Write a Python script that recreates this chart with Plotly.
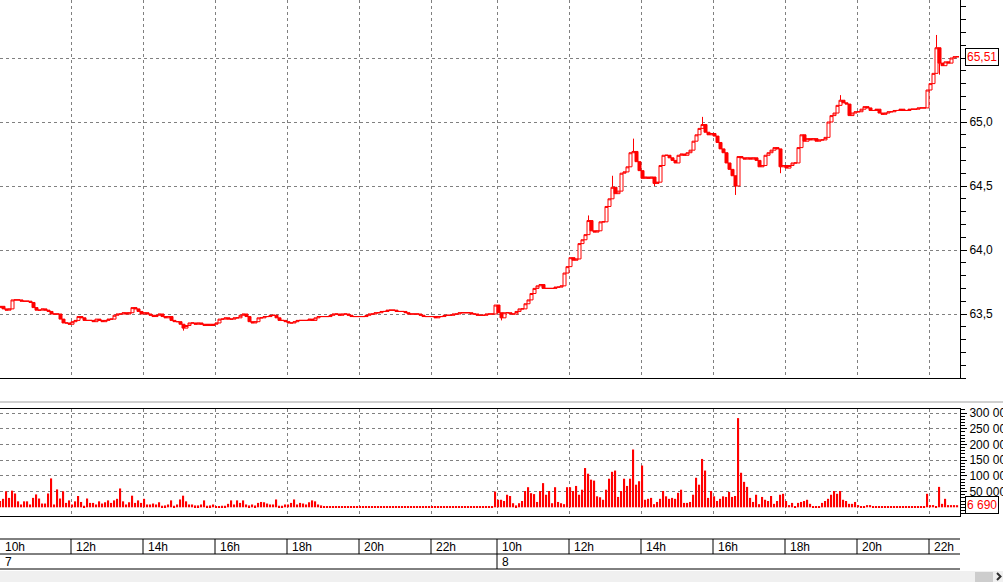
import plotly.graph_objects as go

# ---------------- data ----------------
# 5-minute candles, day 7 (10:00 ->) and day 8 (10:00 ->), bar index on x
close_day1 = [
    63.56, 63.54, 63.53, 63.54, 63.61, 63.61, 63.61, 63.60, 63.60, 63.60,
    63.59, 63.55, 63.53, 63.53, 63.54, 63.53, 63.52, 63.50, 63.50, 63.50,
    63.46, 63.43, 63.43, 63.42, 63.44, 63.45, 63.48, 63.47, 63.45, 63.45,
    63.45, 63.44, 63.46, 63.45, 63.44, 63.45, 63.46, 63.46, 63.49, 63.50,
    63.50, 63.51, 63.50, 63.51, 63.55, 63.54, 63.52, 63.50, 63.51, 63.50,
    63.49, 63.48, 63.49, 63.50, 63.48, 63.47, 63.48, 63.45, 63.44, 63.44,
    63.42, 63.39, 63.41, 63.43, 63.43, 63.42, 63.43, 63.42, 63.41, 63.42,
    63.41, 63.42, 63.43, 63.46, 63.46, 63.47, 63.46, 63.46, 63.47, 63.47,
    63.49, 63.50, 63.48, 63.44, 63.43, 63.44, 63.47, 63.47, 63.48, 63.48,
    63.49, 63.49, 63.47, 63.45, 63.45, 63.44, 63.43, 63.43, 63.44, 63.45,
    63.45, 63.45, 63.45, 63.46, 63.45, 63.47, 63.48, 63.48, 63.48, 63.48,
    63.49, 63.50, 63.50, 63.49, 63.50, 63.50, 63.49, 63.48, 63.48, 63.48,
    63.48, 63.48, 63.49, 63.50, 63.50, 63.51, 63.51, 63.52, 63.52, 63.53,
    63.53, 63.53, 63.52, 63.52, 63.52, 63.51, 63.50, 63.50, 63.50, 63.50,
    63.49, 63.48, 63.48, 63.48, 63.48, 63.47, 63.48, 63.48, 63.49, 63.49,
    63.49, 63.50, 63.50, 63.51, 63.51, 63.51, 63.51, 63.50, 63.50, 63.49,
    63.49, 63.49, 63.50, 63.50, 63.50,
]
close_day2 = [
    63.57, 63.51, 63.47, 63.51, 63.51, 63.50, 63.50, 63.52, 63.54, 63.54,
    63.58, 63.61, 63.66, 63.70, 63.72, 63.73, 63.70, 63.70, 63.70, 63.70,
    63.71, 63.71, 63.72, 63.82, 63.87, 63.94, 63.92, 63.93, 64.05, 64.08,
    64.12, 64.23, 64.15, 64.14, 64.15, 64.22, 64.22, 64.34, 64.40, 64.49,
    64.44, 64.46, 64.60, 64.61, 64.65, 64.76, 64.77, 64.69, 64.62, 64.56,
    64.57, 64.56, 64.57, 64.52, 64.53, 64.66, 64.74, 64.74, 64.72, 64.70,
    64.68, 64.74, 64.75, 64.74, 64.76, 64.78, 64.85, 64.90, 64.95, 64.98,
    64.92, 64.90, 64.91, 64.89, 64.84, 64.79, 64.76, 64.68, 64.63, 64.58,
    64.50, 64.73, 64.72, 64.71, 64.72, 64.71, 64.72, 64.70, 64.65, 64.66,
    64.74, 64.76, 64.78, 64.80, 64.79, 64.65, 64.66, 64.64, 64.66, 64.68,
    64.68, 64.80, 64.90, 64.85, 64.87, 64.86, 64.87, 64.85, 64.86, 64.86,
    64.88, 65.00, 65.05, 65.07, 65.13, 65.17, 65.15, 65.14, 65.05, 65.07,
    65.08, 65.08, 65.10, 65.12, 65.11, 65.09, 65.09, 65.10, 65.07, 65.06,
    65.07, 65.08, 65.08, 65.09, 65.09, 65.10, 65.09, 65.09, 65.10, 65.10,
    65.10, 65.11, 65.11, 65.11, 65.25, 65.30, 65.38, 65.58, 65.46, 65.44,
    65.47, 65.46, 65.50, 65.51, 65.51,
]
first_open = 63.55

# wicks beyond the candle bodies (bar index -> price)
wick_high_idx = [196, 204, 211, 234, 280, 312]
wick_high_val = [64.27, 64.58, 64.87, 65.04, 65.21, 65.68]
wick_low_idx = [61, 167, 218, 245, 260, 313]
wick_low_val = [63.37, 63.45, 64.50, 64.43, 64.60, 65.37]

volume_day1 = [
    20, 27, 51, 30, 53, 44, 19, 9, 19, 19,
    9, 30, 41, 28, 12, 12, 44, 92, 9, 57,
    28, 51, 14, 22, 9, 19, 36, 17, 5, 28,
    14, 14, 9, 19, 12, 16, 22, 14, 22, 27,
    60, 19, 9, 16, 37, 14, 22, 14, 27, 9,
    9, 12, 9, 16, 5, 6, 9, 22, 5, 9,
    25, 37, 19, 9, 9, 6, 6, 9, 22, 5,
    6, 9, 3, 4, 5, 5, 11, 22, 9, 22,
    14, 22, 9, 6, 9, 6, 14, 17, 16, 12,
    9, 9, 25, 5, 5, 9, 9, 14, 25, 9,
    14, 12, 9, 16, 22, 19, 9, 6, 3, 3,
    2, 3, 2, 4, 2, 2, 3, 2, 2, 4,
    2, 2, 3, 2, 2, 2, 1, 2, 2, 3,
    2, 2, 2, 1, 2, 2, 3, 2, 2, 2,
    1, 2, 2, 2, 1, 2, 2, 2, 1, 2,
    2, 2, 1, 2, 2, 2, 2, 1, 2, 2,
    2, 2, 2, 1, 2,
]
volume_day2 = [
    50, 24, 24, 20, 40, 36, 13, 6, 13, 20,
    52, 64, 45, 42, 17, 52, 77, 40, 52, 13,
    64, 17, 13, 10, 64, 64, 52, 68, 40, 56,
    125, 107, 88, 85, 35, 32, 24, 56, 91, 113,
    117, 33, 52, 91, 68, 91, 184, 72, 83, 133,
    24, 27, 30, 10, 17, 27, 52, 35, 27, 30,
    27, 46, 56, 14, 14, 17, 40, 94, 72, 154,
    117, 30, 52, 35, 20, 27, 35, 33, 49, 33,
    36, 284, 110, 81, 65, 30, 17, 40, 10,
    33, 24, 20, 36, 11, 20, 40, 43, 20, 7,
    14, 4, 14, 17, 20, 24, 11, 4, 4, 4,
    14, 20, 27, 40, 52, 43, 52, 24, 20, 11,
    11, 17, 7,
    2, 2, 7, 7, 2, 2, 4, 2, 2, 2, 2, 2, 2, 2, 2, 2, 2, 2, 2, 4, 2, 2,
    43, 7, 7, 4, 65, 11, 27, 7, 7, 7, 6.69,
]  # thousands

hour_labels = ["10h", "12h", "14h", "16h", "18h", "20h", "22h",
               "10h", "12h", "14h", "16h", "18h", "20h", "22h"]
hour_bars = [0, 24, 48, 72, 96, 120, 144, 166, 190, 214, 238, 262, 286, 310]
day_labels = ["7", "8"]
day_bars = [0, 166]

price_ticks = [63.5, 64.0, 64.5, 65.0, 65.5]
price_tick_text = ["63,5", "64,0", "64,5", "65,0", ""]   # 65,5 is hidden by the last-price box
volume_ticks = [50000, 100000, 150000, 200000, 250000, 300000]

# ---------------- build series ----------------
closes = close_day1 + close_day2
n = len(closes)
idx = list(range(n))
opens = [first_open] + closes[:-1]
highs = [max(o, c) for o, c in zip(opens, closes)]
lows = [min(o, c) for o, c in zip(opens, closes)]
for i, v in zip(wick_high_idx, wick_high_val):
    highs[i] = max(highs[i], v)
for i, v in zip(wick_low_idx, wick_low_val):
    lows[i] = min(lows[i], v)
volumes = [v * 1000 for v in volume_day1 + volume_day2]

tick_pos = [b - 0.5 for b in hour_bars]
day_pos = [b - 0.5 for b in day_bars]

RED = "#ff0000"
GRID = "#808080"
FONT = "Liberation Sans"
W, H = 1003, 582
XR = [-0.17, 319.83]
PX_RIGHT = 960 / W


def py(p):
    return 1 - p / H


fig = go.Figure()
fig.add_trace(go.Candlestick(
    x=idx, open=opens, high=highs, low=lows, close=closes,
    increasing=dict(line=dict(color=RED, width=1), fillcolor="#ffffff"),
    decreasing=dict(line=dict(color=RED, width=1), fillcolor=RED),
    whiskerwidth=0, hoverinfo="skip", xaxis="x", yaxis="y",
))
fig.add_trace(go.Bar(
    x=idx, y=volumes, width=0.4,
    marker=dict(color=RED, line=dict(width=0)),
    hoverinfo="skip", xaxis="x2", yaxis="y2",
))

common_x = dict(
    range=XR, tickmode="array", tickvals=tick_pos, showticklabels=False,
    showgrid=True, gridcolor=GRID, griddash="3px,3px", gridwidth=1,
    zeroline=False, ticks="", fixedrange=True, automargin=False,
)

fig.update_layout(
    width=W, height=H, margin=dict(l=0, r=0, t=0, b=0, autoexpand=False),
    paper_bgcolor="white", plot_bgcolor="white", showlegend=False,
    separators=", ", boxgap=0.0, boxgroupgap=0.0,
    font=dict(family=FONT, size=11, color="black"),
    xaxis=dict(domain=[0, PX_RIGHT], anchor="y", rangeslider=dict(visible=False),
               showline=True, linecolor="black", linewidth=1, **common_x),
    yaxis=dict(domain=[py(378), 1], range=[63.0, 63.0 + 378 / 128], side="right",
               anchor="x", tickmode="array", tickvals=price_ticks, ticktext=price_tick_text,
               ticks="outside", ticklen=6, tickcolor="black", automargin=False,
               minor=dict(tickmode="linear", tick0=0, dtick=0.1, ticks="outside",
                          ticklen=5, tickcolor="black", showgrid=False),
               showline=True, linecolor="black", linewidth=1,
               showgrid=True, gridcolor=GRID, griddash="3px,3px", zeroline=False,
               fixedrange=True,
               tickfont=dict(family=FONT, size=12, color="black")),
    xaxis2=dict(domain=[0, PX_RIGHT], anchor="y2", showline=True, mirror=True,
                linecolor="black", linewidth=1, **common_x),
    yaxis2=dict(domain=[py(516), py(409)], range=[-27700, 313000], side="right",
                anchor="x2", tickmode="array", tickvals=volume_ticks, tickformat=",d",
                ticks="outside", ticklen=6, tickcolor="black", automargin=False,
                minor=dict(tickmode="linear", tick0=0, dtick=10000, ticks="outside",
                           ticklen=4, tickcolor="black", showgrid=False),
                showline=True, linecolor="black", linewidth=1,
                showgrid=True, gridcolor=GRID, griddash="3px,3px", zeroline=False,
                fixedrange=True,
                tickfont=dict(family=FONT, size=12, color="black")),
)

shapes = []
# separator line between the panels
shapes.append(dict(type="line", xref="paper", yref="paper", x0=0, x1=1,
                   y0=py(402), y1=py(402), line=dict(color="#a0a0a0", width=1)))
# time scale rows
for yy in (539, 554, 569):
    shapes.append(dict(type="line", xref="paper", yref="paper", x0=0, x1=PX_RIGHT,
                       y0=py(yy), y1=py(yy), line=dict(color="black", width=1)))
for tp in tick_pos:
    shapes.append(dict(type="line", xref="x", yref="paper", x0=tp, x1=tp,
                       y0=py(539), y1=py(554), line=dict(color="black", width=1)))
for dp in day_pos[1:]:
    shapes.append(dict(type="line", xref="x", yref="paper", x0=dp, x1=dp,
                       y0=py(554), y1=py(569), line=dict(color="black", width=1)))
# scrollbar
shapes.append(dict(type="rect", xref="paper", yref="paper", x0=0, x1=1,
                   y0=0, y1=py(571), fillcolor="#f0f0f0", line=dict(width=0), layer="below"))
shapes.append(dict(type="rect", xref="paper", yref="paper", x0=975 / W, x1=993 / W,
                   y0=0, y1=py(572), fillcolor="#cdcdcd", line=dict(width=0)))
# scroll arrow
shapes.append(dict(type="path", xref="paper", yref="paper",
                   path=f"M {997 / W},{py(573)} L {1000.5 / W},{py(576.5)} L {997 / W},{py(580)}",
                   line=dict(color="#303030", width=2)))
fig.update_layout(shapes=shapes)

ann = []
for lab, tp in zip(hour_labels, tick_pos):
    ann.append(dict(x=max(tp, XR[0]), xref="x", y=py(546.5), yref="paper", text=lab,
                    showarrow=False, xanchor="left", yanchor="middle", xshift=3,
                    font=dict(family=FONT, size=12, color="black")))
for lab, dp in zip(day_labels, day_pos):
    ann.append(dict(x=max(dp, XR[0]), xref="x", y=py(561.5), yref="paper", text=lab,
                    showarrow=False, xanchor="left", yanchor="middle", xshift=3,
                    font=dict(family=FONT, size=12, color="black")))
last_price = f"{closes[-1]:.2f}".replace(".", ",")
ann.append(dict(x=965 / W, xref="paper", y=closes[-1], yref="y", text=last_price,
                showarrow=False, xanchor="left", yanchor="middle",
                bgcolor="white", bordercolor="black", borderwidth=1, borderpad=1,
                font=dict(family=FONT, size=12, color=RED)))
last_vol = f"{volumes[-1]:,.0f}".replace(",", " ")
ann.append(dict(x=965 / W, xref="paper", y=volumes[-1], yref="y2", text=last_vol,
                showarrow=False, xanchor="left", yanchor="middle",
                bgcolor="white", bordercolor="black", borderwidth=1, borderpad=1,
                font=dict(family=FONT, size=12, color=RED)))
fig.update_layout(annotations=ann)

fig.write_html("out.html", config={"displayModeBar": False},
               post_script="document.body.style.margin='0px';")
